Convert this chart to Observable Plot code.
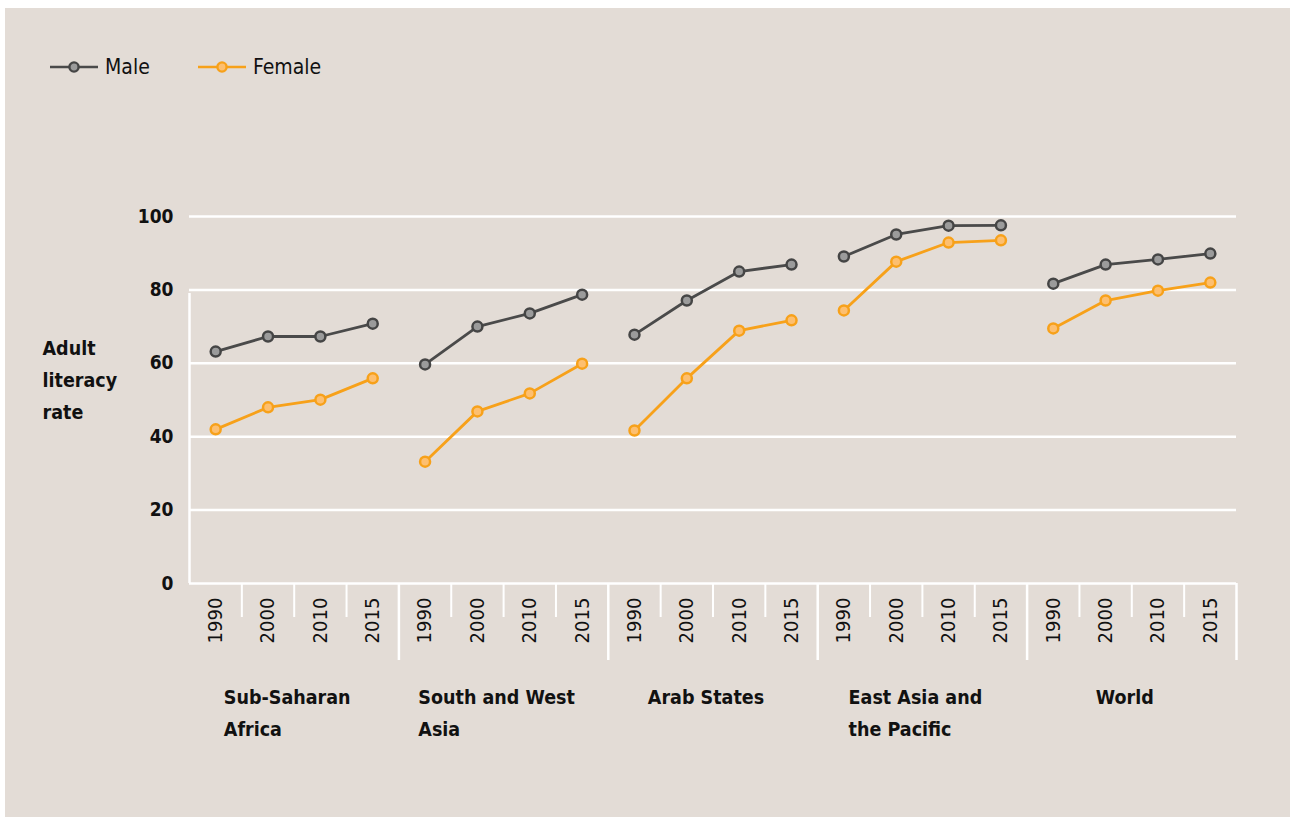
<!DOCTYPE html>
<html>
<head>
<meta charset="utf-8">
<script src="https://cdn.jsdelivr.net/npm/d3@7"></script>
<script src="https://cdn.jsdelivr.net/npm/@observablehq/plot@0.6"></script>
<style>
  html, body { margin: 0; padding: 0; background: #ffffff; }
  #frame {
    position: absolute; left: 5px; top: 8px; width: 1285px; height: 809px;
    background: #e3dcd6; overflow: hidden;
    font-family: "Liberation Sans Narrow", "Arial Narrow", "DejaVu Sans Condensed", sans-serif;
    color: #111;
  }
  #legend { position: relative; height: 92px; }
  .item { position: absolute; top: 47px; display: flex; align-items: center; font-size: 21px; height: 24px; }
  .item svg { margin-right: 7px; }
  #chart svg { display: block; }
</style>
</head>
<body>
<div id="frame">
  <div id="legend"></div>
  <div id="chart"></div>
</div>
<script>
// ---- data ----
const groups = ["Sub-Saharan\nAfrica", "South and West\nAsia", "Arab States", "East Asia and\nthe Pacific", "World"];
const years = ["1990", "2000", "2010", "2015"];
const male = [
  [63.2, 67.3, 67.3, 70.8],
  [59.7, 70.0, 73.6, 78.7],
  [67.8, 77.1, 85.0, 86.9],
  [89.1, 95.1, 97.5, 97.6],
  [81.7, 86.9, 88.3, 89.9]
];
const female = [
  [42.0, 48.0, 50.1, 55.9],
  [33.2, 46.9, 51.8, 59.9],
  [41.7, 55.9, 68.9, 71.7],
  [74.4, 87.7, 92.9, 93.5],
  [69.5, 77.1, 79.8, 82.0]
];
const yTicks = [0, 20, 40, 60, 80, 100];
const yTitle = "Adult\nliteracy\nrate";
const seriesNames = ["Male", "Female"];

// ---- styles ----
const FONT = '"Liberation Sans Narrow", "Arial Narrow", "DejaVu Sans Condensed", sans-serif';
const colors = {
  Male: {line: "#4a4a4a", fill: "#9b9b9b", stroke: "#454545"},
  Female: {line: "#f7a11a", fill: "#fdbf70", stroke: "#f7a11a"}
};

// ---- build table ----
const nY = years.length;
const rows = [];
groups.forEach((g, gi) => {
  years.forEach((yr, yi) => {
    const slot = gi * nY + yi;
    rows.push({group: g, year: yr, slot, xc: slot + 0.5, sex: "Male", value: male[gi][yi]});
    rows.push({group: g, year: yr, slot, xc: slot + 0.5, sex: "Female", value: female[gi][yi]});
  });
});
const slots = rows.filter(d => d.sex === "Male");
const nSlots = groups.length * nY;
const majorEdges = d3.range(1, groups.length + 1).map(i => i * nY);
const minorEdges = d3.range(0, nSlots).filter(i => i % nY !== 0);

// ---- legend ----
const legend = document.getElementById("legend");
const legendX = [45, 193];
seriesNames.forEach((name, i) => {
  const c = colors[name];
  const div = document.createElement("div");
  div.className = "item";
  div.style.left = legendX[i] + "px";
  div.innerHTML = `<svg width="48" height="14"><line x1="0" x2="48" y1="7" y2="7" stroke="${c.line}" stroke-width="2.6"/><circle cx="24" cy="7" r="4.6" fill="${c.fill}" stroke="${c.stroke}" stroke-width="2.4"/></svg><span>${name}</span>`;
  legend.appendChild(div);
});

// ---- measure group label widths for left-aligned centred blocks ----
const GL_SIZE = 19.5;
const ctx = document.createElement("canvas").getContext("2d");
ctx.font = `bold ${GL_SIZE}px ${FONT}`;
const blockHalf = groups.map(g => d3.max(g.split("\n"), l => ctx.measureText(l).width) / 2);

const groupLabelMarks = groups.map((g, gi) =>
  Plot.text([g], {
    x: () => gi * nY + nY / 2,
    y: () => 0,
    text: d => d,
    textAnchor: "start",
    lineAnchor: "top",
    dx: -blockHalf[gi] - 7,
    dy: 98,
    lineHeight: 32 / GL_SIZE,
    fontSize: GL_SIZE,
    fontWeight: "bold",
    fill: "#111"
  })
);

const plot = Plot.plot({
  width: 1285,
  height: 717,
  marginLeft: 184,
  marginRight: 54,
  marginTop: 116,
  marginBottom: 234,
  style: {background: "transparent", fontFamily: FONT, color: "#111", overflow: "visible"},
  x: {domain: [0, nSlots], axis: null},
  y: {domain: [0, 100], axis: null},
  marks: [
    Plot.ruleY(yTicks, {stroke: "#ffffff", strokeWidth: 2.5}),
    Plot.ruleX([0], {y1: 0, y2: 100, insetBottom: -77, stroke: "#ffffff", strokeWidth: 2.5}),
    Plot.ruleX(majorEdges, {y1: 0, y2: 0, insetBottom: -77, stroke: "#ffffff", strokeWidth: 2.5}),
    Plot.ruleX(minorEdges, {y1: 0, y2: 0, insetBottom: -34, stroke: "#ffffff", strokeWidth: 2}),
    Plot.axisY({ticks: yTicks, tickSize: 0, tickPadding: 16, fontSize: 19, fontWeight: "bold", label: null}),
    Plot.text([yTitle], {
      frameAnchor: "left", text: d => d, textAnchor: "start", lineAnchor: "middle",
      dx: -147, dy: -23, lineHeight: 32 / 19.5, fontSize: 19.5, fontWeight: "bold", fill: "#111"
    }),
    Plot.text(slots, {
      x: "xc", y: () => 0, text: "year", rotate: -90, dy: 37,
      textAnchor: "middle", lineAnchor: "middle", fontSize: 20, fill: "#111"
    }),
    ...groupLabelMarks,
    ...seriesNames.map(name => Plot.line(rows.filter(d => d.sex === name), {
      x: "xc", y: "value", z: "group", stroke: colors[name].line, strokeWidth: 2.8
    })),
    ...seriesNames.map(name => Plot.dot(rows.filter(d => d.sex === name), {
      x: "xc", y: "value", r: 5, fill: colors[name].fill, stroke: colors[name].stroke, strokeWidth: 2.5
    }))
  ]
});
document.getElementById("chart").appendChild(plot);
</script>
</body>
</html>
